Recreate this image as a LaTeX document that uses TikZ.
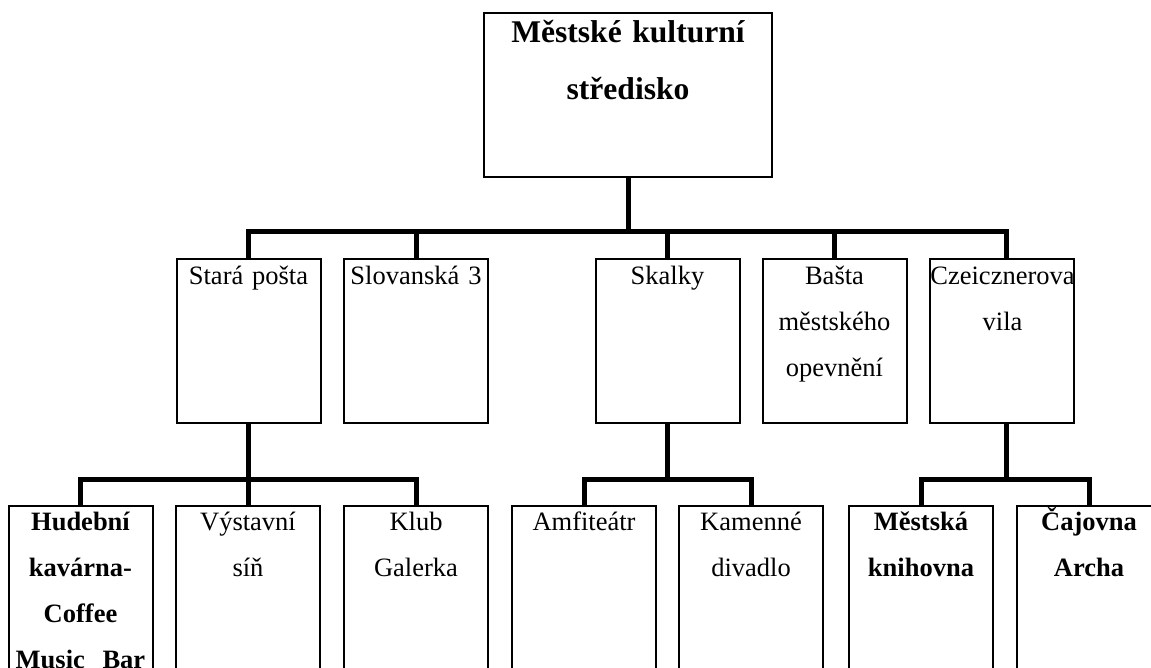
\documentclass[tikz,border=0pt]{standalone}
\usepackage{fontspec}
\setmainfont{Liberation Serif}
\begin{document}
\begin{tikzpicture}[x=1pt,y=1pt,
  box/.style={draw, line width=2pt, minimum width=144pt, inner sep=0pt, anchor=north},
  lvtwo/.style={box, minimum height=164pt},
  lvthree/.style={box, minimum height=215pt},
  conn/.style={line width=5pt, line join=miter},
  lbl/.style={anchor=base, inner sep=0pt, text width=146pt, align=center,
              font=\fontsize{26.5}{46}\selectfont},
  blbl/.style={lbl, font=\bfseries\fontsize{26.5}{46}\selectfont},
]
\useasboundingbox (0,0) rectangle (1151,-668);
\clip (0,0) rectangle (1151,-668);

% top
\node[box, minimum width=288pt, minimum height=164pt] (top) at (628,-12) {};
\node[lbl, text width=290pt, font=\bfseries\fontsize{31.6}{57}\selectfont] (ttop) at (628,-43) {Městské kulturní\\středisko};

% level 2
\node[lvtwo] (sp) at (248.5,-258) {};
\node[lvtwo] (sl) at (416,-258) {};
\node[lvtwo] (sk) at (667.5,-258) {};
\node[lvtwo] (ba) at (834.5,-258) {};
\node[lvtwo] (cz) at (1001.5,-258) {};
\node[lbl] (tsp) at (248.5,-285) {Stará pošta};
\node[lbl] (tsl) at (416,-285) {Slovanská 3};
\node[lbl] (tsk) at (667.5,-285) {Skalky};
\node[lbl] (tba) at (834.5,-285) {Bašta\\městského\\opevnění};
\node[lbl] (tcz) at (1002.5,-285) {Czeicznerova\\vila};

% level 3
\node[lvthree] (hu) at (80.5,-505) {};
\node[lvthree] (vy) at (248,-505) {};
\node[lvthree] (kl) at (416,-505) {};
\node[lvthree] (am) at (584,-505) {};
\node[lvthree] (ka) at (751,-505) {};
\node[lvthree] (mk) at (921,-505) {};
\node[lvthree] (ca) at (1089,-505) {};
\node[blbl] (thu) at (80.5,-530) {Hudební\\kavárna-\\Coffee\\Music\ \ Bar};
\node[lbl] (tvy) at (248,-530) {Výstavní\\síň};
\node[lbl] (tkl) at (416,-530) {Klub\\Galerka};
\node[lbl] (tam) at (584,-530) {Amfiteátr};
\node[lbl] (tka) at (751,-530) {Kamenné\\divadlo};
\node[blbl] (tmk) at (921,-530) {Městská\\knihovna};
\node[blbl] (tca) at (1089,-530) {Čajovna\\Archa};

% connectors level 1 -> 2
\draw[conn] (top.south) -- ++(0,-56);
\draw[conn] (sp.north) -- ++(0,26) -| ([xshift=4.5pt]cz.north);
\draw[conn] (sl.north) -- ++(0,26);
\draw[conn] (sk.north) -- ++(0,26);
\draw[conn] (ba.north) -- ++(0,26);

% connectors level 2 -> 3
\draw[conn] (sp.south) -- ++(0,-57);
\draw[conn] (hu.north) -- ++(0,26) -| (kl.north);
\draw[conn] (vy.north) -- ++(0,26);

\draw[conn] (sk.south) -- ++(0,-57);
\draw[conn] (am.north) -- ++(0,26) -| (ka.north);

\draw[conn] ([xshift=4.5pt]cz.south) -- ++(0,-57);
\draw[conn] (mk.north) -- ++(0,26) -| (ca.north);
\end{tikzpicture}
\end{document}
